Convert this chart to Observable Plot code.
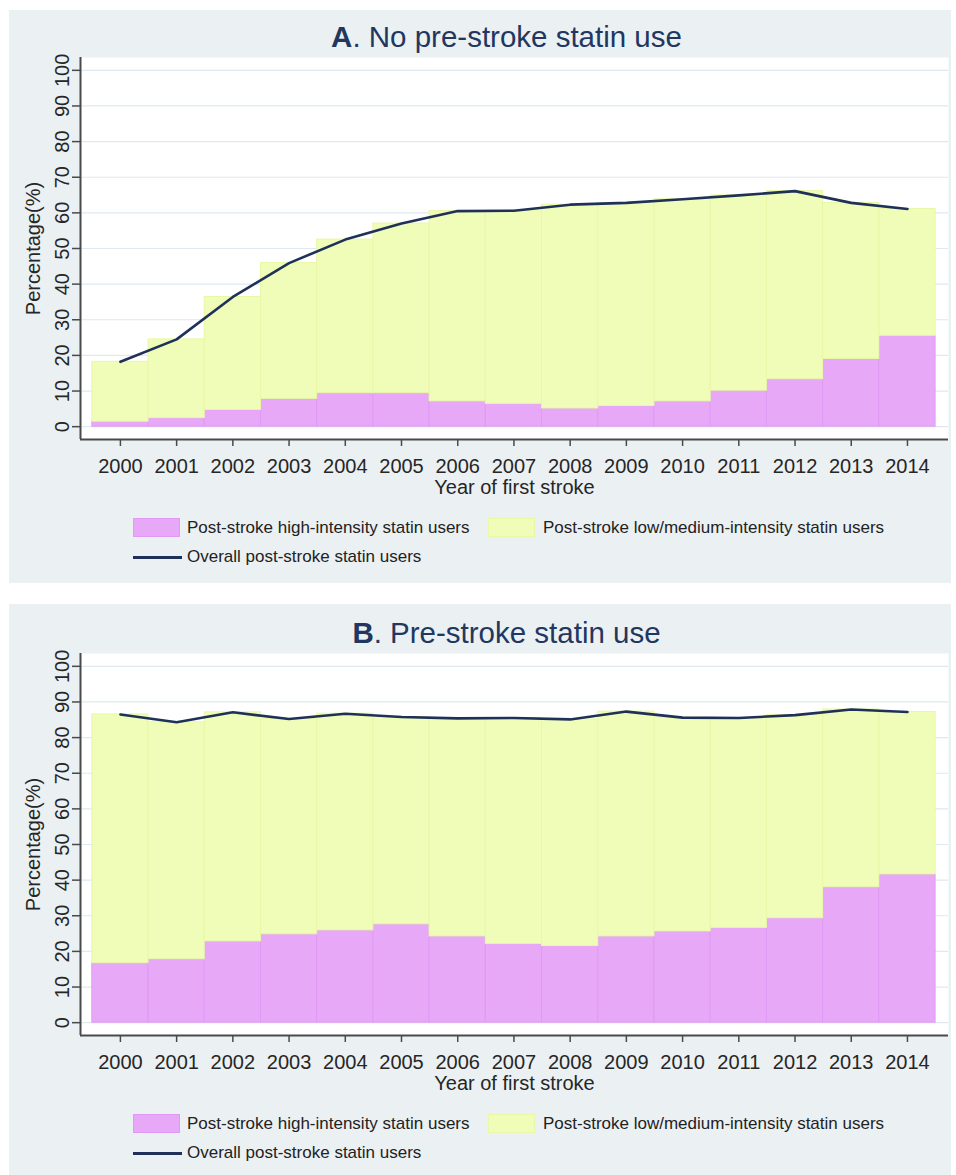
<!DOCTYPE html>
<html>
<head>
<meta charset="utf-8">
<script src="https://cdn.jsdelivr.net/npm/d3@7"></script>
<script src="https://cdn.jsdelivr.net/npm/@observablehq/plot@0.6"></script>
<style>
  html, body { margin: 0; padding: 0; background: #ffffff; }
  body { width: 956px; height: 1175px; position: relative; overflow: hidden; font-family: "Liberation Sans", Arial, sans-serif; }
  .panel { position: absolute; left: 9px; width: 942px; background: #ebf0f3; }
  .title { position: absolute; left: 0; width: 995px; text-align: center; font-size: 29.5px; line-height: 29.5px; color: #22375f; white-space: nowrap; }
  .plot { position: absolute; left: 0; }
  .legend-item { position: absolute; font-size: 17px; line-height: 20px; color: #222; white-space: nowrap; }
  .sw { position: absolute; width: 47px; height: 19px; box-sizing: border-box; }
  .lsw { position: absolute; width: 49px; height: 3px; }
</style>
</head>
<body>
<script>
// ---- data ----
const years = [2000, 2001, 2002, 2003, 2004, 2005, 2006, 2007, 2008, 2009, 2010, 2011, 2012, 2013, 2014];
const yTicks = [0, 10, 20, 30, 40, 50, 60, 70, 80, 90, 100];
const seriesNames = ["Post-stroke high-intensity statin users", "Post-stroke low/medium-intensity statin users", "Overall post-stroke statin users"];
const titleLetters = ["A", "B"];
const titleTexts = [". No pre-stroke statin use", ". Pre-stroke statin use"];
const xLabel = "Year of first stroke";
const yLabel = "Percentage(%)";

// Panel A: no pre-stroke statin use
const highA    = [1.4, 2.4, 4.7, 7.8, 9.4, 9.4, 7.1, 6.4, 5.1, 5.8, 7.1, 10.1, 13.3, 19.0, 25.5];
const overallA = [18.2, 24.5, 36.4, 45.9, 52.5, 57.0, 60.5, 60.6, 62.3, 62.8, 63.8, 64.9, 66.1, 62.8, 61.1];
// Panel B: pre-stroke statin use
const highB    = [16.7, 17.8, 22.8, 24.8, 25.9, 27.6, 24.2, 22.1, 21.5, 24.2, 25.6, 26.6, 29.3, 38.0, 41.6];
const overallB = [86.5, 84.3, 87.1, 85.2, 86.7, 85.8, 85.4, 85.5, 85.1, 87.3, 85.6, 85.5, 86.3, 87.9, 87.2];

// ---- styles ----
const pink = "#e8a8f8", pinkEdge = "#e09af4";
const yellow = "#f0fdb8", yellowEdge = "#e9f7a6";
const navy = "#1f3159";
const axisColor = "#4a4a4a";
const textColor = "#262626";
const xDomain = [1999.29, 2014.73];
const yDomain = [-3.6, 103.6];

function makePlot(high, overall) {
  const rows = years.map((year, i) => ({year, high: high[i], overall: overall[i]}));
  return Plot.plot({
    width: 942,
    height: 500,
    marginTop: 47,
    marginBottom: 71,
    marginLeft: 71,
    marginRight: 3,
    style: {background: "transparent", fontFamily: '"Liberation Sans", Arial, sans-serif', overflow: "visible"},
    x: {domain: xDomain},
    y: {domain: yDomain},
    marks: [
      Plot.frame({fill: "white", stroke: "none"}),
      Plot.gridY(yTicks, {stroke: "#dfe9ef", strokeOpacity: 1, strokeWidth: 1.2}),
      Plot.rectY(rows, {x1: d => d.year - 0.5, x2: d => d.year + 0.5, y1: () => 0, y2: "high", fill: pink, stroke: pinkEdge, strokeWidth: 1, inset: 0}),
      Plot.rectY(rows, {x1: d => d.year - 0.5, x2: d => d.year + 0.5, y1: "high", y2: "overall", fill: yellow, stroke: yellowEdge, strokeWidth: 1, inset: 0}),
      Plot.line(rows, {x: "year", y: "overall", stroke: navy, strokeWidth: 2.6}),
      Plot.ruleX([xDomain[0]], {stroke: axisColor, strokeWidth: 2}),
      Plot.ruleY([yDomain[0]], {stroke: axisColor, strokeWidth: 2}),
      Plot.axisY({ticks: yTicks, tickRotate: -90, tickSize: 8, tickPadding: 4, fontSize: 20, label: null, stroke: axisColor, fill: textColor, strokeWidth: 1.5}),
      Plot.axisX({ticks: years, tickFormat: d => String(d), tickSize: 7, tickPadding: 12, fontSize: 20, label: null, stroke: axisColor, fill: textColor, strokeWidth: 1.5}),
      Plot.text([xLabel], {frameAnchor: "bottom", dy: 40, lineAnchor: "top", fontSize: 20, fill: textColor}),
      Plot.text([yLabel], {frameAnchor: "left", dx: -47, rotate: -90, textAnchor: "middle", lineAnchor: "middle", fontSize: 20, fill: textColor})
    ]
  });
}

function makePanel(cfg) {
  const panel = document.createElement("div");
  panel.className = "panel";
  panel.style.top = cfg.top + "px";
  panel.style.height = cfg.height + "px";
  document.body.appendChild(panel);
  const s = cfg.shift;

  const title = document.createElement("div");
  title.className = "title";
  title.style.top = (12 + s) + "px";
  const b = document.createElement("b");
  b.textContent = cfg.letter;
  title.appendChild(b);
  title.appendChild(document.createTextNode(cfg.text));
  panel.appendChild(title);

  const holder = document.createElement("div");
  holder.className = "plot";
  holder.style.top = s + "px";
  holder.appendChild(makePlot(cfg.high, cfg.overall));
  panel.appendChild(holder);

  // legend
  const sw1 = document.createElement("div");
  sw1.className = "sw";
  sw1.style.cssText = `left:124px;top:${508 + s}px;background:${pink};border:1px solid ${pinkEdge};`;
  panel.appendChild(sw1);
  const t1 = document.createElement("div");
  t1.className = "legend-item";
  t1.style.cssText = `left:178px;top:${508 + s}px;`;
  t1.textContent = seriesNames[0];
  panel.appendChild(t1);

  const sw2 = document.createElement("div");
  sw2.className = "sw";
  sw2.style.cssText = `left:479px;top:${508 + s}px;background:${yellow};border:1px solid ${yellowEdge};`;
  panel.appendChild(sw2);
  const t2 = document.createElement("div");
  t2.className = "legend-item";
  t2.style.cssText = `left:534px;top:${508 + s}px;`;
  t2.textContent = seriesNames[1];
  panel.appendChild(t2);

  const sw3 = document.createElement("div");
  sw3.className = "lsw";
  sw3.style.cssText = `left:124px;top:${546 + s}px;background:${navy};`;
  panel.appendChild(sw3);
  const t3 = document.createElement("div");
  t3.className = "legend-item";
  t3.style.cssText = `left:178px;top:${537 + s}px;`;
  t3.textContent = seriesNames[2];
  panel.appendChild(t3);
}

makePanel({top: 10, height: 573, shift: 0, letter: titleLetters[0], text: titleTexts[0], high: highA, overall: overallA});
makePanel({top: 604, height: 580, shift: 2, letter: titleLetters[1], text: titleTexts[1], high: highB, overall: overallB});
</script>
</body>
</html>
